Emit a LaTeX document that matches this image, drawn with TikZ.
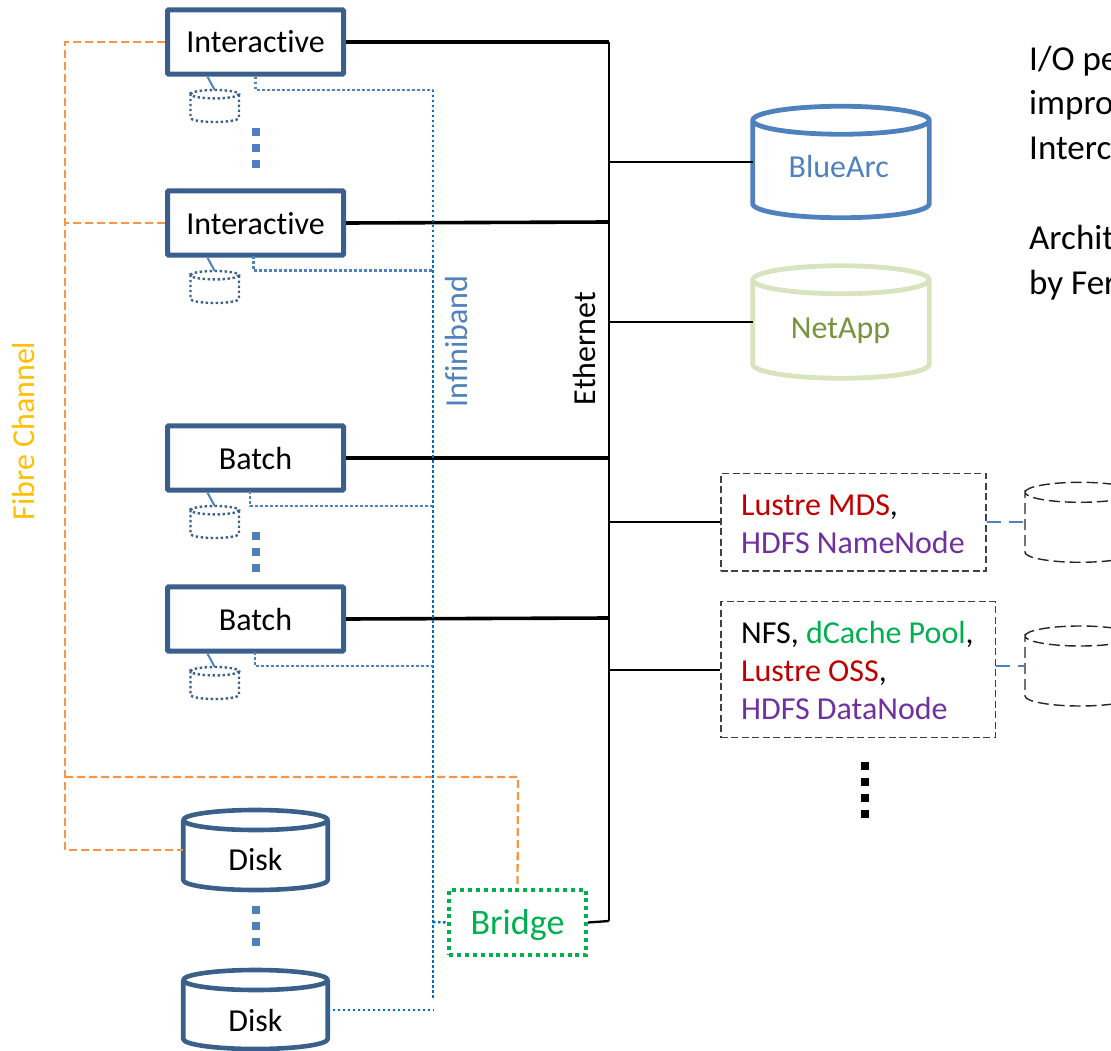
\documentclass[tikz,border=0pt]{standalone}
\usepackage{fontspec}
\setmainfont[Ligatures={NoCommon}]{Carlito}
\definecolor{boxblue}{HTML}{3A5F8B}
\definecolor{dotblue}{HTML}{0070C0}
\definecolor{midblue}{HTML}{4F81BD}
\definecolor{fcorange}{HTML}{F79646}
\definecolor{fcyellow}{HTML}{FFC000}
\definecolor{brgreen}{HTML}{00B050}
\definecolor{napgreen}{HTML}{D7E4BD}
\definecolor{naptext}{HTML}{77933C}
\definecolor{lustre}{HTML}{C00000}
\definecolor{hdfs}{HTML}{7030A0}
\definecolor{dashgrey}{HTML}{404040}
\definecolor{cylgrey}{HTML}{262626}
\tikzset{
 x=1pt,y=-1pt,
 txt/.style={font=\fontsize{32}{38}\selectfont,inner sep=0pt},
 bigtxt/.style={font=\fontsize{35}{42}\selectfont,inner sep=0pt,anchor=base west},
 host/.style={draw=boxblue,line width=5pt,rounded corners=1pt,minimum width=176pt,minimum height=64.4pt,inner sep=0pt,fill=white,txt,text height=24pt,text depth=2pt},
 disk/.style={draw=boxblue,line width=4.6pt,line join=round},
 store/.style={line width=4.8pt,line join=round},
 mini/.style={draw=boxblue,line width=2.4pt,dash pattern=on 2.4pt off 2.6pt},
 eth/.style={line width=3.6pt,black},
 eththin/.style={line width=2.3pt,black},
 fc/.style={draw=fcorange,line width=2.3pt,dash pattern=on 8pt off 4pt},
 ib/.style={draw=dotblue,line width=2.5pt,dash pattern=on 2.5pt off 2.5pt},
 ibb/.style={draw=midblue,line width=2.5pt,dash pattern=on 2.5pt off 2.5pt},
 svc/.style={draw=dashgrey,line width=1.5pt,dash pattern=on 7pt off 3.5pt,inner sep=0pt},
 dcyl/.style={draw=cylgrey,line width=1.4pt,dash pattern=on 11pt off 5pt},
 link/.style={draw=midblue,line width=2pt},
 dotsq/.style={fill=midblue,minimum size=8pt,inner sep=0pt},
 dotk/.style={fill=black,minimum size=8pt,inner sep=0pt},
 anchorbox/.style={inner sep=0pt,outer sep=0pt},
}
% name, cx, cy, width, height, ry, style
\newcommand\cylnode[7]{%
  \node[anchorbox,minimum width=#4pt,minimum height=#5pt] (#1) at (#2,#3) {};
  \begin{scope}[shift={(#2,#3)}]
    \pgfmathsetmacro\rx{#4/2}
    \pgfmathsetmacro\kx{#4/2*0.55}
    \pgfmathsetmacro\hh{#5/2}
    \pgfmathsetmacro\ty{-#5/2+#6}
    \pgfmathsetmacro\by{#5/2-#6}
    \pgfmathsetmacro\ka{-#5/2+#6*0.45}
    \pgfmathsetmacro\kb{-#5/2+#6*1.55}
    \pgfmathsetmacro\kc{#5/2-#6*0.45}
    \draw[#7] (-\rx,\ty) .. controls (-\rx,\ka) and (-\kx,-\hh) .. (0,-\hh)
      .. controls (\kx,-\hh) and (\rx,\ka) .. (\rx,\ty)
      .. controls (\rx,\kb) and (\kx,{-\hh+2*#6}) .. (0,{-\hh+2*#6})
      .. controls (-\kx,{-\hh+2*#6}) and (-\rx,\kb) .. (-\rx,\ty)
      -- (-\rx,\by) .. controls (-\rx,\kc) and (-\kx,\hh) .. (0,\hh)
      .. controls (\kx,\hh) and (\rx,\kc) .. (\rx,\by) -- (\rx,\ty);
  \end{scope}}
\begin{document}
\begin{tikzpicture}
\useasboundingbox (0,0) rectangle (1111,1051);
% Ethernet backbone
\coordinate (busTop) at (609,42);
\coordinate (busBot) at (609,921);
\draw[eththin] (busTop) -- (busBot);
% hosts
\node[host] (i1) at (255.5,42) {Interactive};
\node[host] (i2) at (255.5,223) {Interactive};
\node[host] (b1) at (255.5,458) {Batch};
\node[host] (b2) at (255.5,619) {Batch};
\cylnode{m1}{214.7}{106}{48.5}{32}{4.2}{mini}
\cylnode{m2}{214.7}{287}{48.5}{32}{4.2}{mini}
\cylnode{m3}{214.7}{522}{48.5}{32}{4.2}{mini}
\cylnode{m4}{214.7}{683}{48.5}{32}{4.2}{mini}
\foreach \h/\m in {i1/m1,i2/m2,b1/m3,b2/m4}
  \draw[link] ([xshift=-48pt]\h.south) -- (\m.north);
\foreach \y in {132,148,164}{\node[dotsq] at (255.5,\y) {};}
\foreach \y in {536,552,568}{\node[dotsq] at (255.5,\y) {};}
\foreach \y in {910,926,942}{\node[dotsq] at (255.5,\y) {};}
\foreach \y in {766,782,798,814}{\node[dotk] at (865,\y) {};}
% disks
\cylnode{d1}{255.5}{850}{144.5}{80}{10}{disk}
\node[txt] (d1t) at (255.5,860) {Disk};
\cylnode{d2}{255.5}{1009.5}{144.5}{79}{10}{disk}
\node[txt] (d2t) at (255.5,1020) {Disk};
% bridge
\node[draw=brgreen,line width=4pt,dash pattern=on 4pt off 3.9pt,minimum width=137pt,minimum height=65pt,inner sep=0pt,text=brgreen,font=\fontsize{36}{42}\selectfont,text height=28pt,text depth=5pt] (br) at (517.5,922.5) {Bridge};
% ethernet links
\coordinate (e1) at (609,42);
\coordinate (e2) at (609,222);
\coordinate (e3) at (609,458);
\coordinate (e4) at (609,618);
\foreach \h/\e in {i1/e1,i2/e2,b1/e3,b2/e4}{\draw[eth] (\h.east |- \h.center) -- (\e);}
% central storage
\cylnode{ba}{841}{162}{176.5}{111.5}{14}{store,draw=midblue}
\node[txt,text=midblue,anchor=base] (bat) at (838.7,178) {BlueArc};
\cylnode{na}{841}{322}{176.5}{112.5}{14}{store,draw=napgreen}
\node[txt,text=naptext,anchor=base] (nat) at (840.5,338) {NetApp};
\draw[eththin] (busTop |- ba.center) -- (ba.west |- ba.center);
\draw[eththin] (busTop |- na.center) -- (na.west |- na.center);
% services
\node[svc,minimum width=265pt,minimum height=97.7pt] (s1) at (853.4,522.3) {};
\node[txt,align=left,anchor=west] (s1t) at (741,524) {\textcolor{lustre}{Lustre MDS},\\\textcolor{hdfs}{HDFS NameNode}};
\node[svc,minimum width=274.5pt,minimum height=136pt] (s2) at (858,669.7) {};
\node[txt,align=left,anchor=west] (s2t) at (741,671) {NFS, \textcolor{brgreen}{dCache Pool},\\\textcolor{lustre}{Lustre OSS},\\\textcolor{hdfs}{HDFS DataNode}};
\cylnode{c1}{1080}{522.3}{110}{80}{10}{dcyl}
\cylnode{c2}{1080}{666}{110}{80}{10}{dcyl}
\draw[eththin] (busTop |- s1.west) -- (s1.west);
\draw[eththin] (busTop |- s2.west) -- (s2.west);
\draw[link,dash pattern=on 14pt off 8pt] (s1.east) -- (c1.west |- s1.east);
\draw[link,dash pattern=on 14pt off 8pt] (s2.east |- c2.center) -- (c2.west);
% bridge to ethernet
\draw[eththin] (br.east) -- (busBot);
% labels
\node[txt,rotate=90] (ethl) at (585,348.5) {Ethernet};
\node[txt,rotate=90,text=midblue] (ibl) at (457,341.5) {Infiniband};
\node[txt,rotate=90,text=fcyellow] (fcl) at (24,431) {Fibre Channel};
% fibre channel
\coordinate (fcTop) at (65,42);
\coordinate (fcBot) at (65,850);
\draw[fc] (i1.west) -- (fcTop) -- (fcBot) -- (d1.west |- fcBot);
\draw[fc] (i2.west) -- (fcTop |- i2.west);
\coordinate (fcR) at (518,777);
\draw[fc] (fcTop |- fcR) -- (fcR) -- (br.north);
% infiniband
\coordinate (ibTop) at (433,90);
\coordinate (ibBot) at (433,998);
\draw[ib] (ibTop) -- (ibBot);
\draw[ibb] (i1.south) -- (i1.south |- ibTop) -- (ibTop);
\coordinate (ib2) at (433,270.5);
\draw[ibb] (253.5,256) -- (253.5,270.5) -- (ib2);
\coordinate (ib3) at (433,506);
\draw[ibb] (250,491) -- (250,506) -- (ib3);
\coordinate (ib4) at (433,666);
\draw[ibb] (255,652) -- (255,666) -- (ib4);
\coordinate (ib5) at (433,1010);
\draw[ib] (d2.east |- ib5) -- (ib5);
\coordinate (ib6) at (433,922);
\draw[ib] (ib6) -- (br.west);
% right text
\node[bigtxt] (t1) at (1029,71) {I/O pe};
\node[bigtxt] (t2) at (1029,115) {impro};
\node[bigtxt] (t3) at (1029,160) {Interc};
\node[bigtxt] (t4) at (1029,249) {Archit};
\node[bigtxt] (t5) at (1029,294) {by Fer};
\end{tikzpicture}
\end{document}
